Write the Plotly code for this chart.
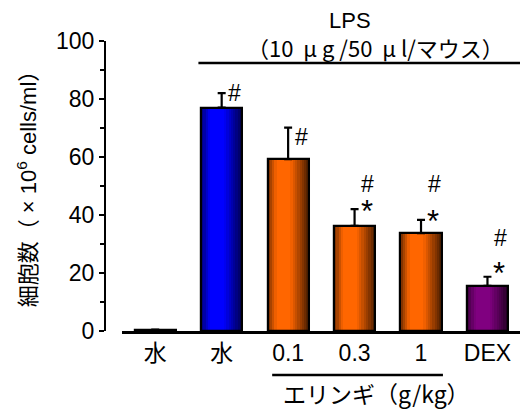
import plotly.graph_objects as go

categories = ["水", "水", "0.1", "0.3", "1", "DEX"]
values = [0.5, 77.0, 59.3, 36.3, 33.7, 15.6]
errors = [0.0, 5.0, 10.8, 5.7, 4.6, 3.1]
hash_marks = [False, True, True, True, True, True]
star_marks = [False, False, False, True, True, True]
base_colors = [(255, 255, 255), (0, 0, 255), (255, 102, 0), (255, 102, 0), (255, 102, 0), (128, 0, 128)]
y_ticks = [0, 20, 40, 60, 80, 100]

FONT = "Liberation Sans, Arial, Noto Sans CJK JP"
CJK = "Noto Sans CJK JP"
x = list(range(len(categories)))
W = 0.62
N = 18


def profile(t):
    pts = [(0.0, 0.45), (0.22, 1.0), (0.55, 1.0), (1.0, 0.3)]
    for (t0, f0), (t1, f1) in zip(pts[:-1], pts[1:]):
        if t0 <= t <= t1:
            return f0 + (f1 - f0) * (t - t0) / (t1 - t0)
    return 1.0


fig = go.Figure()
for k in range(N):
    t = (k + 0.5) / N
    f = profile(t)
    cols = []
    for i, (r, g, b) in enumerate(base_colors):
        if i == 0:
            cols.append("rgb(255,255,255)")
        else:
            cols.append(f"rgb({int(r*f)},{int(g*f)},{int(b*f)})")
    fig.add_trace(go.Bar(
        x=x, y=values, width=W / N * 1.15, offset=-W / 2 + k * W / N,
        marker=dict(color=cols, line=dict(width=0)),
        showlegend=False, hoverinfo="skip"))

fig.add_trace(go.Bar(
    x=x, y=values, width=W,
    marker=dict(color="rgba(0,0,0,0)", line=dict(color="black", width=2.2)),
    error_y=dict(type="data", symmetric=False, array=errors,
                 arrayminus=[0] * len(errors), color="black", thickness=2.2, width=4),
    showlegend=False))

annotations = []
hash_yshift = [0, 0, -9, 25, 36, 39]
star_yshift = [0, 0, 0, -2, -2, 3]
for i in x:
    top = values[i] + errors[i]
    if star_marks[i]:
        annotations.append(dict(x=i, y=top, xref="x", yref="y", text="*", showarrow=False,
                                xshift=12, yshift=star_yshift[i], yanchor="middle",
                                font=dict(size=31, family=FONT, color="black")))
    if hash_marks[i]:
        annotations.append(dict(x=i, y=top, xref="x", yref="y", text="#", showarrow=False,
                                xshift=13, yshift=hash_yshift[i], yanchor="middle",
                                font=dict(size=23, family=FONT, color="black")))

annotations += [
    dict(x=-0.184, y=0.51, xref="paper", yref="paper", xanchor="center", yanchor="middle",
         text="細胞数（ × 10<sup>6</sup> cells/ml）",
         textangle=-90, showarrow=False, font=dict(size=22, family=FONT, color="black")),
    dict(x=2.93, y=1.072, xref="x", yref="paper", xanchor="center", yanchor="middle",
         text="LPS", showarrow=False,
         font=dict(size=22, family=FONT, color="black")),
    dict(x=3.31, y=0.979, xref="x", yref="paper", xanchor="center", yanchor="middle",
         text="（10  μ g /50  μ l/マウス）", showarrow=False,
         font=dict(size=22, family=CJK, color="black")),
    dict(x=3.33, y=-0.214, xref="x", yref="paper", xanchor="center", yanchor="middle",
         text="エリンギ（g/kg）", showarrow=False,
         font=dict(size=23, family=CJK, color="black")),
]

fig.update_layout(
    width=520, height=402,
    margin=dict(l=97, r=0, t=33, b=79),
    plot_bgcolor="white", paper_bgcolor="white",
    barmode="overlay", bargap=0,
    annotations=annotations,
    shapes=[
        dict(type="line", xref="x", yref="paper", x0=0.65, x1=5.61, y0=0.924, y1=0.924,
             line=dict(color="black", width=2.5)),
        dict(type="line", xref="x", yref="paper", x0=1.76, x1=4.33, y0=-0.152, y1=-0.152,
             line=dict(color="black", width=2.5)),
    ],
    xaxis=dict(domain=[0.0402, 1], range=[-0.5, 5.61], tickvals=x, ticktext=categories,
               showline=True, linecolor="black", linewidth=2.5, ticks="", showgrid=False,
               zeroline=False, tickfont=dict(size=23, family=FONT, color="black")),
    yaxis=dict(anchor="free", position=0, range=[0, 100], tickvals=y_ticks,
               showline=True, linecolor="black", linewidth=2, ticks="outside", ticklen=5,
               tickwidth=2, tickcolor="black", showgrid=False, zeroline=False,
               minor=dict(dtick=10, ticks="outside", ticklen=4, tickwidth=2, tickcolor="black"),
               tickfont=dict(size=23, family=FONT, color="black")),
)

fig.write_html("out.html")
